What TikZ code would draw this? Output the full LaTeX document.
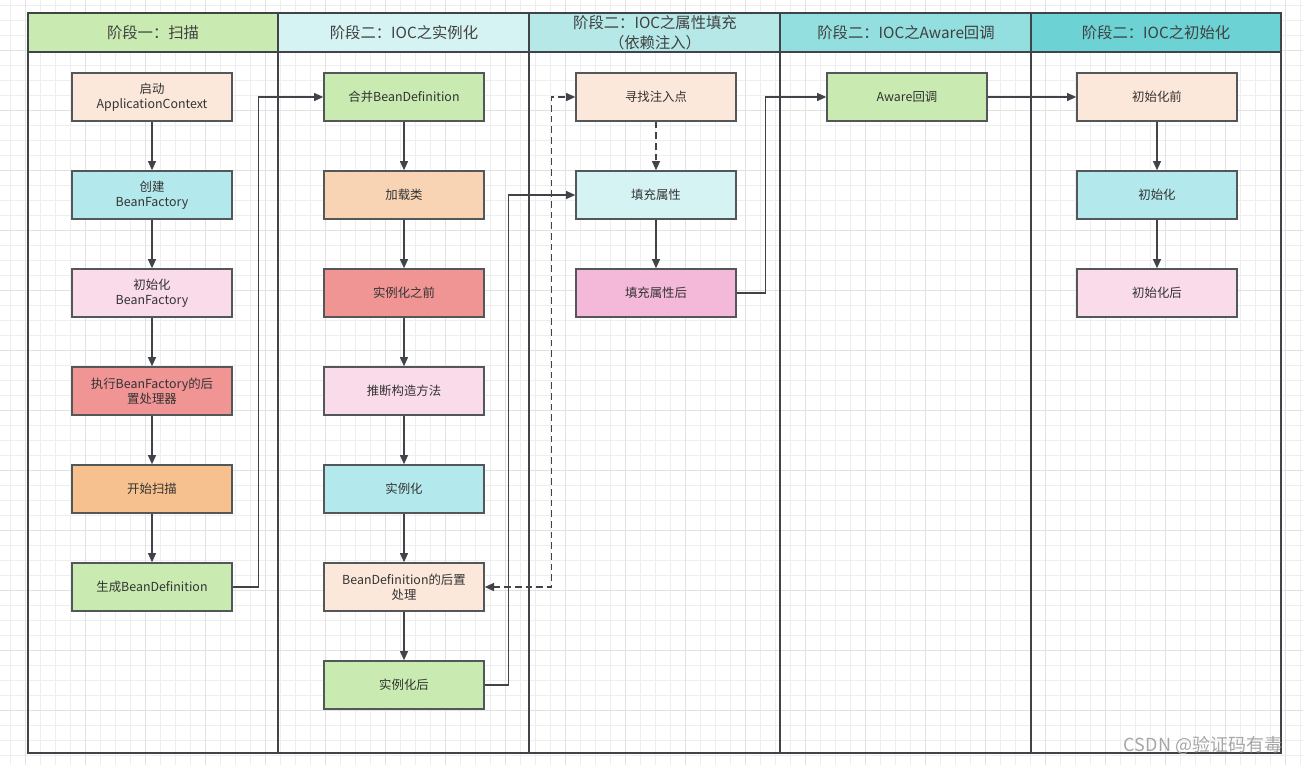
\documentclass[tikz,border=0pt]{standalone}
\usepackage{fontspec}
\setmainfont{Noto Sans CJK SC}
\usepackage{tikz}
\usetikzlibrary{arrows.meta}

\definecolor{lanegreen}{HTML}{C9EBB2}
\definecolor{lanecyanA}{HTML}{D6F3F3}
\definecolor{lanecyanB}{HTML}{B6E8E8}
\definecolor{lanecyanC}{HTML}{93DEDE}
\definecolor{lanecyanD}{HTML}{6CD2D3}
\definecolor{peach}{HTML}{FCE8DA}
\definecolor{cyanbox}{HTML}{B3E9EC}
\definecolor{pinkbox}{HTML}{FADBEA}
\definecolor{redbox}{HTML}{F19494}
\definecolor{orangebox}{HTML}{F6C08F}
\definecolor{tanbox}{HTML}{F8D4B4}
\definecolor{rosebox}{HTML}{F4B8D8}
\definecolor{lightcyan}{HTML}{D6F3F3}
\definecolor{inkgray}{HTML}{404448}
\definecolor{gridgray}{HTML}{EEEEEE}
\definecolor{gridmajor}{HTML}{E2E2E2}

\tikzset{
  stepbox/.style={draw=inkgray!90, line width=1pt, minimum width=120pt,
    minimum height=36pt, text width=112pt, align=center,
    font=\fontsize{9.3}{11.5}\selectfont, text=black!80},
  lanehead/.style={font=\fontsize{11.5}{13}\selectfont, text=black!75, align=center},
  flow/.style={draw=inkgray, line width=1.1pt, -{Triangle[length=7pt,width=6pt]}},
  flowdash/.style={dash pattern=on 5pt off 3pt},
}

\begin{document}
\begin{tikzpicture}[x=0.75pt,y=-0.75pt]
\useasboundingbox (0,0) rectangle (1303,765);
%grid
\foreach \gx in {10,25,...,1300}
    \draw[gridgray, line width=0.6pt] (\gx,0) -- (\gx,765);
\foreach \gy in {5,20,...,765}
    \draw[gridgray, line width=0.6pt] (0,\gy) -- (1303,\gy);
\foreach \gx in {25,85,...,1300}
    \draw[gridmajor, line width=0.6pt] (\gx,0) -- (\gx,765);
\foreach \gy in {50,110,...,765}
    \draw[gridmajor, line width=0.6pt] (0,\gy) -- (1303,\gy);
%lane heads
\foreach \lx/\lc in {28/lanegreen,278/lanecyanA,529/lanecyanB,780/lanecyanC,1031/lanecyanD}
    \fill[\lc] (\lx,13) rectangle ++(251,39);
\node[lanehead] (headscan) at (153,33) {阶段一：扫描};
\node[lanehead] (headinst) at (404,33) {阶段二：IOC之实例化};
\node[lanehead, font=\fontsize{11.5}{15}\selectfont] (headfill) at (655,33) {阶段二：IOC之属性填充\\（依赖注入）};
\node[lanehead] (headaware) at (906,33) {阶段二：IOC之Aware回调};
\node[lanehead] (headinit) at (1156,33) {阶段二：IOC之初始化};
%lanes
\draw[inkgray, line width=1.6pt] (28,13) rectangle (1281,753);
\draw[inkgray, line width=1.6pt] (28,52) -- (1281,52);
\foreach \lx in {278,529,780,1031}
    \draw[inkgray, line width=1.6pt] (\lx,13) -- (\lx,753);
%boxes: scan
\node[stepbox, fill=peach] (start) at (152,97) {启动\\ApplicationContext};
\node[stepbox, fill=cyanbox] (create) at (152,195) {创建\\BeanFactory};
\node[stepbox, fill=pinkbox] (initfac) at (152,293) {初始化\\BeanFactory};
\node[stepbox, fill=redbox] (postproc) at (152,391) {执行BeanFactory的后\\置处理器};
\node[stepbox, fill=orangebox] (scan) at (152,489) {开始扫描};
\node[stepbox, fill=lanegreen] (gen) at (152,587) {生成BeanDefinition};
%boxes: instantiate
\node[stepbox, fill=lanegreen] (merge) at (404,97) {合并BeanDefinition};
\node[stepbox, fill=tanbox] (load) at (404,195) {加载类};
\node[stepbox, fill=redbox] (beforeinst) at (404,293) {实例化之前};
\node[stepbox, fill=pinkbox] (ctor) at (404,391) {推断构造方法};
\node[stepbox, fill=cyanbox] (inst) at (404,489) {实例化};
\node[stepbox, fill=peach] (bdpost) at (404,587) {BeanDefinition的后置\\处理};
\node[stepbox, fill=lanegreen] (afterinst) at (404,685) {实例化后};
%boxes: populate
\node[stepbox, fill=peach] (findpoint) at (656,97) {寻找注入点};
\node[stepbox, fill=lightcyan] (fillprop) at (656,195) {填充属性};
\node[stepbox, fill=rosebox] (afterfill) at (656,293) {填充属性后};
%boxes: aware
\node[stepbox, fill=lanegreen] (aware) at (907,97) {Aware回调};
%boxes: init
\node[stepbox, fill=peach] (beforeinit) at (1157,97) {初始化前};
\node[stepbox, fill=cyanbox] (doinit) at (1157,195) {初始化};
\node[stepbox, fill=pinkbox] (afterinit) at (1157,293) {初始化后};
%arrows down
\foreach \a/\b in {start/create,create/initfac,initfac/postproc,postproc/scan,scan/gen,
    merge/load,load/beforeinst,beforeinst/ctor,ctor/inst,inst/bdpost,bdpost/afterinst,
    fillprop/afterfill,beforeinit/doinit,doinit/afterinit}
    \draw[flow] (\a) -- (\b);
\draw[flow, flowdash] (findpoint) -- (fillprop);
%arrows across
\draw[flow] (gen.east) -- ++(26,0) |- (merge.west);
\draw[flow] (afterinst.east) -- ++(24,0) |- (fillprop.west);
\draw[flow, flowdash, {Triangle[length=7pt,width=6pt]}-{Triangle[length=7pt,width=6pt]}]
    (bdpost.east) -- ++(67,0) |- (findpoint.west);
\draw[flow] (afterfill.east) -- ++(29,0) |- (aware.west);
\draw[flow] (aware) -- (beforeinit);
%labels
\node[text=gray!70, font=\fontsize{13.5}{15}\selectfont] (mark) at (1203,745) {CSDN @验证码有毒};
\end{tikzpicture}
\end{document}
